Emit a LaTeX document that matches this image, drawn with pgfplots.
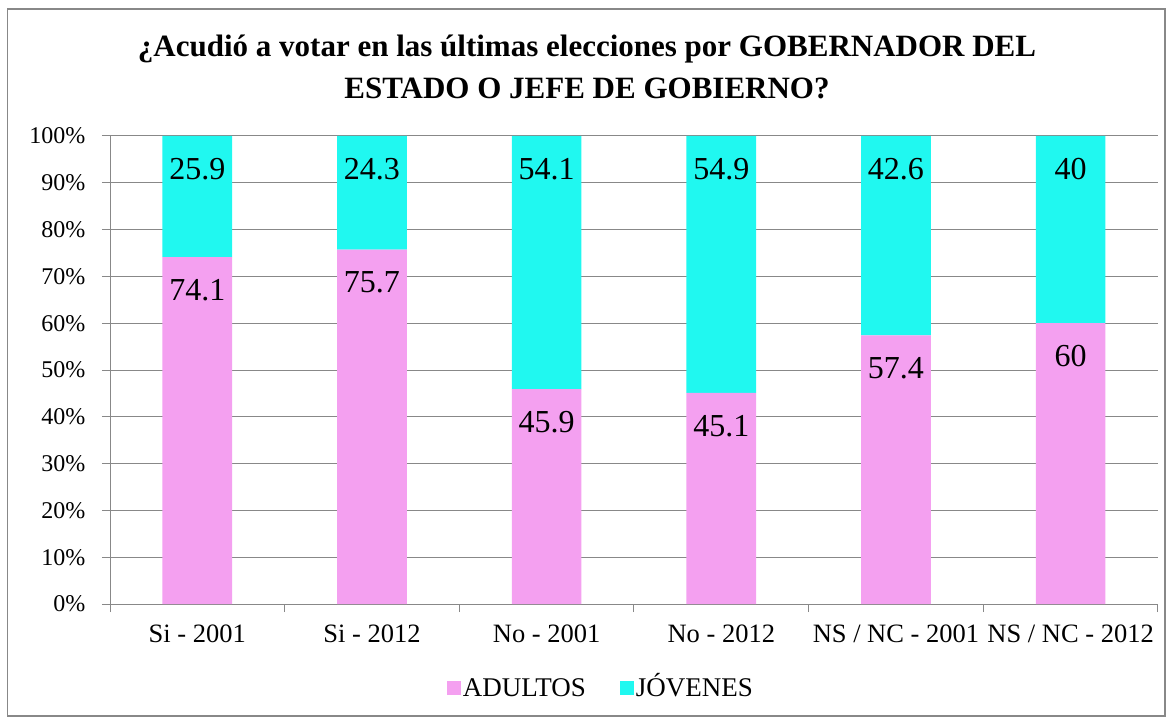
\documentclass[border=0pt]{standalone}
\usepackage{fontspec}
\setmainfont{Liberation Serif}
\usepackage{pgfplots}
\pgfplotsset{compat=1.18}
\definecolor{pinkA}{HTML}{F4A0F0}
\definecolor{cyanJ}{HTML}{20F8F0}
\definecolor{axgray}{HTML}{888888}
\begin{document}
\begin{tikzpicture}[x=1pt,y=1pt]
\path[fill=white] (0,0) rectangle (1174,721);
\draw[axgray, line width=1.3pt] (7.5,5) rectangle (1165,712);
\node[font=\bfseries\fontsize{31}{42}\selectfont, align=center] at (587,654) {¿Acudió a votar en las últimas elecciones por GOBERNADOR DEL\\ESTADO O JEFE DE GOBIERNO?};
\begin{axis}[
  at={(110pt,117pt)}, anchor=south west,
  scale only axis, width=1048pt, height=468pt,
  ybar stacked, bar width=69.7pt,
  xmin=-0.5, xmax=5.5, ymin=0, ymax=100,
  xtick={0,...,5},
  xticklabels={Si - 2001, Si - 2012, No - 2001, No - 2012, NS / NC - 2001, NS / NC - 2012},
  major x tick style={draw=none},
  minor xtick={-0.5,0.5,1.5,2.5,3.5,4.5,5.5},
  ytick={0,10,...,100},
  yticklabel={\pgfmathprintnumber{\tick}\%},
  axis x line*=bottom, axis y line*=left,
  tick align=outside,
  major tick length=8pt, minor tick length=8pt,
  ymajorgrids, grid style={axgray, line width=1pt},
  axis line style={axgray, line width=1pt, -},
  tick style={axgray, line width=1pt},
  yticklabel style={font=\fontsize{24}{24}\selectfont, text=black, xshift=-13pt},
  xticklabel style={font=\fontsize{26.5}{26.5}\selectfont, text=black, yshift=-9pt},
  /pgf/number format/assume math mode=true,
  point meta=explicit symbolic,
  nodes near coords,
  every node near coord/.append style={anchor=center, yshift={\pgfplotspointmeta*2.34pt-33pt}, font=\fontsize{32}{32}\selectfont, text=black},
  legend style={at={(0.4685,-0.18)}, anchor=center, draw=none, legend columns=2, font=\fontsize{27}{27}\selectfont, nodes={text height=19pt, text depth=2pt}, /tikz/every even column/.append style={column sep=32pt}},
  legend image code/.code={\fill[#1] (-3pt,-7pt) rectangle (11pt,7pt);},
]
\addplot[fill=pinkA, draw=none] coordinates {(0,74.1)[74.1] (1,75.7)[75.7] (2,45.9)[45.9] (3,45.1)[45.1] (4,57.4)[57.4] (5,60)[60]};
\addplot[fill=cyanJ, draw=none] coordinates {(0,25.9)[25.9] (1,24.3)[24.3] (2,54.1)[54.1] (3,54.9)[54.9] (4,42.6)[42.6] (5,40)[40]};
\legend{ADULTOS, JÓVENES}
\end{axis}
\end{tikzpicture}
\end{document}
